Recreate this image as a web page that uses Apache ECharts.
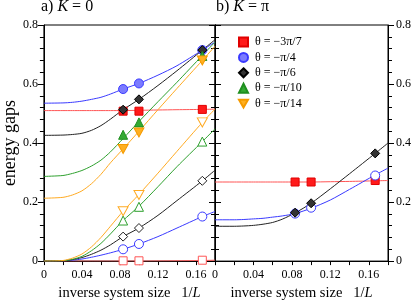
<!DOCTYPE html>
<html><head><meta charset="utf-8">
<script src="https://cdn.jsdelivr.net/npm/echarts@6/dist/echarts.min.js"></script>
<style>html,body{margin:0;padding:0;background:#fff}#c{width:415px;height:306px}</style>
</head><body><div id="c"></div>
<script>
// ---- data ----
const systemSizes = [12, 10, 6];               // L
const legendNames = ['θ = −3π/7', 'θ = −π/4', 'θ = −π/6', 'θ = −π/10', 'θ = −π/14'];
const xTickLabels = ['0', '0.04', '0.08', '0.12', '0.16'];
const yTickLabels = ['0', '0.2', '0.4', '0.6', '0.8'];

// panel a, upper branch (filled markers)
const aUpRed    = [0.508, 0.508, 0.514];
const aUpBlue   = [0.583, 0.602, 0.715];
const aUpBlack  = [0.513, 0.548, 0.715];
const aUpGreen  = [0.428, 0.470, 0.695];
const aUpOrange = [0.380, 0.436, 0.680];
// panel a, lower branch (open markers)
const aLoRed    = [0.001, 0.001, 0.003];
const aLoBlue   = [0.040, 0.058, 0.151];
const aLoBlack  = [0.083, 0.112, 0.272];
const aLoGreen  = [0.1375, 0.184, 0.405];
const aLoOrange = [0.169, 0.224, 0.470];
// panel b
const bRed   = [0.268, 0.268, 0.273];
const bBlue  = [0.161, 0.181, 0.290];
const bBlack = [0.164, 0.196, 0.365];

// fitted curves
const curveX = [0, 0.02, 0.03, 0.04, 0.05, 0.06, 0.07, 0.0833, 0.1, 0.12, 0.14, 0.1667, 0.18];
const cAUpRed    = [0.51,0.51,0.51,0.51,0.51,0.51,0.51,0.51,0.511,0.512,0.513,0.514,0.515];
const cAUpBlue   = [0.535,0.536,0.538,0.542,0.548,0.555,0.566,0.583,0.602,0.630,0.662,0.715,0.742];
const cAUpBlack  = [0.426,0.427,0.429,0.433,0.443,0.459,0.481,0.513,0.548,0.595,0.645,0.715,0.75];
const cAUpGreen  = [0.287,0.290,0.297,0.307,0.322,0.342,0.370,0.415,0.473,0.540,0.606,0.697,0.742];
const cAUpOrange = [0.213,0.216,0.224,0.238,0.262,0.294,0.333,0.38,0.44,0.513,0.585,0.68,0.728];
const cALoRed    = [0,0,0,0,0,0,0,0,0,0.0005,0.001,0.002,0.003];
const cALoBlue   = [0,0.001,0.003,0.007,0.013,0.02,0.028,0.040,0.058,0.083,0.112,0.151,0.168];
const cALoBlack  = [0,0.001,0.005,0.012,0.023,0.037,0.055,0.083,0.112,0.155,0.205,0.272,0.308];
const cALoGreen  = [0,0.001,0.006,0.016,0.035,0.06,0.092,0.1375,0.186,0.252,0.32,0.405,0.448];
const cALoOrange = [0,0.002,0.01,0.024,0.048,0.08,0.118,0.169,0.226,0.298,0.372,0.47,0.515];
const cBRed   = [0.268,0.268,0.268,0.268,0.268,0.268,0.268,0.268,0.268,0.269,0.27,0.272,0.273];
const cBBlue  = [0.14,0.14,0.141,0.143,0.145,0.149,0.153,0.161,0.179,0.207,0.243,0.292,0.315];
const cBBlack = [0.118,0.118,0.119,0.121,0.125,0.131,0.142,0.163,0.196,0.245,0.296,0.365,0.40];

// ---- styles ----
const FONT = 'Liberation Serif';
const C = {
  red:    {line:'#ff5555', fill:'#ff1a1a', border:'#e00000'},
  blue:   {line:'#3a3aff', fill:'#7b7bff', border:'#3a3aff'},
  black:  {line:'#222222', fill:'#333333', border:'#000000'},
  green:  {line:'#2ea02e', fill:'#33aa33', border:'#1f8f1f'},
  orange: {line:'#ffaa22', fill:'#ffb020', border:'#f59a00'}
};
const DOWN = 'path://M0,0L2,0L1,1.732Z';
const invL = systemSizes.map(l => 1 / l);

function curve(xi, yi, ys, col) {
  return {type:'line', xAxisIndex:xi, yAxisIndex:yi, data: curveX.map((x,i)=>[x, ys[i]]),
    smooth:0.25, showSymbol:false, symbol:'none',
    lineStyle:{color:col.line, width:1}, z:2, silent:true};
}
function marks(name, xi, yi, ys, symbol, size, col, open) {
  return {type:'scatter', name:name, xAxisIndex:xi, yAxisIndex:yi,
    data: invL.map((x,i)=>[x, ys[i]]), symbol:symbol, symbolSize:size,
    itemStyle:{color: open ? '#ffffff' : col.fill, borderColor: open ? col.line : col.border,
      borderWidth: 1, opacity:1}, z:5, silent:true};
}

const xFmt = v => { const k = Math.round(v*100); if (k % 4 !== 0 || k > 16) return ''; return xTickLabels[k/4]; };
const yFmt = v => { const k = Math.round(v*10); return (k % 2 === 0) ? yTickLabels[k/2] : ''; };

function xAx(g) {
  return {type:'value', gridIndex:g, min:0, max:0.18, interval:0.02, position:'bottom',
    axisLine:{show:true, onZero:false, lineStyle:{color:'#000', width:1}},
    axisTick:{show:true, length:4, lineStyle:{color:'#000'}},
    axisLabel:{formatter:xFmt, margin:8, fontFamily:FONT, fontSize:12, color:'#000'},
    splitLine:{show:false},
    name:'inverse system size   1/{i|L}', nameLocation:'middle', nameGap:20,
    nameTextStyle:{fontFamily:FONT, fontSize:14.5, color:'#000',
      rich:{i:{fontFamily:FONT, fontSize:14.5, fontStyle:'italic', color:'#000'}}}};
}
function yAx(g, pos, labels, extra) {
  return Object.assign({type:'value', gridIndex:g, min:0, max:0.8, interval:0.2, position:pos,
    axisLine:{show:true, onZero:false, lineStyle:{color:'#000', width:1}},
    axisTick:{show:true, length:6, lineStyle:{color:'#000'}},
    minorTick:{show:true, splitNumber:5, length:4, lineStyle:{color:'#000'}},
    axisLabel:{show:labels, formatter:yFmt, margin:pos==='left'?6:8, fontFamily:FONT, fontSize:12, color:'#000'},
    splitLine:{show:false}, minorSplitLine:{show:false}}, extra || {});
}

const option = {
  animation:false,
  backgroundColor:'#fff',
  title:[
    {text:'a) {i|K} = 0', left:41, top:-1, padding:0,
      textStyle:{fontFamily:FONT, fontSize:16, fontWeight:'normal', color:'#000',
        rich:{i:{fontFamily:FONT, fontSize:16, fontStyle:'italic', color:'#000'}}}},
    {text:'b) {i|K} = π', left:216, top:-1, padding:0,
      textStyle:{fontFamily:FONT, fontSize:16, fontWeight:'normal', color:'#000',
        rich:{i:{fontFamily:FONT, fontSize:16, fontStyle:'italic', color:'#000'}}}}
  ],
  grid:[
    {left:41, top:25, width:174, height:244, show:true, borderColor:'#000', borderWidth:1, containLabel:false},
    {left:215, top:25, width:173, height:244, show:true, borderColor:'#000', borderWidth:1, containLabel:false}
  ],
  legend:{orient:'vertical', left:238, top:36, padding:0, itemWidth:9, itemHeight:9, itemGap:3.4,
    selectedMode:false,
    textStyle:{fontFamily:FONT, fontSize:12, color:'#000', lineHeight:9, padding:[0,0,0,2]},
    data:[
      {name:legendNames[0], icon:'rect'},
      {name:legendNames[1], icon:'circle'},
      {name:legendNames[2], icon:'diamond'},
      {name:legendNames[3], icon:'triangle'},
      {name:legendNames[4], icon:DOWN}
    ]},
  xAxis:[xAx(0), xAx(1)],
  yAxis:[
    yAx(0, 'left', true, {name:'energy gaps', nameLocation:'middle', nameRotate:90, nameGap:23,
      nameTextStyle:{fontFamily:FONT, fontSize:18, color:'#000'}}),
    yAx(0, 'right', false),
    yAx(1, 'left', false),
    yAx(1, 'right', true)
  ],
  series:[
    curve(0,0,cAUpRed,C.red), curve(0,0,cAUpBlue,C.blue), curve(0,0,cAUpBlack,C.black),
    curve(0,0,cAUpGreen,C.green), curve(0,0,cAUpOrange,C.orange),
    curve(0,0,cALoRed,C.red), curve(0,0,cALoBlue,C.blue), curve(0,0,cALoBlack,C.black),
    curve(0,0,cALoGreen,C.green), curve(0,0,cALoOrange,C.orange),
    curve(1,2,cBRed,C.red), curve(1,2,cBBlue,C.blue), curve(1,2,cBBlack,C.black),

    marks(legendNames[0],0,0,aUpRed,'rect',8,C.red,false),
    marks(legendNames[1],0,0,aUpBlue,'circle',9,C.blue,false),
    marks(legendNames[2],0,0,aUpBlack,'diamond',9,C.black,false),
    marks(legendNames[3],0,0,aUpGreen,'triangle',9,C.green,false),
    marks(legendNames[4],0,0,aUpOrange,DOWN,[10,9],C.orange,false),

    marks('a-lo-red',0,0,aLoRed,'rect',8,C.red,true),
    marks('a-lo-blue',0,0,aLoBlue,'circle',9,C.blue,true),
    marks('a-lo-black',0,0,aLoBlack,'diamond',9,C.black,true),
    marks('a-lo-green',0,0,aLoGreen,'triangle',9,C.green,true),
    marks('a-lo-orange',0,0,aLoOrange,DOWN,[10,9],C.orange,true),

    marks('b-red',1,2,bRed,'rect',8,C.red,false),
    marks('b-blue',1,2,bBlue,'circle',9,C.blue,true),
    marks('b-black',1,2,bBlack,'diamond',9,C.black,false)
  ]
};
const chart = echarts.init(document.getElementById('c'), null, {renderer:'canvas'});
chart.setOption(option);
</script>
</body></html>
